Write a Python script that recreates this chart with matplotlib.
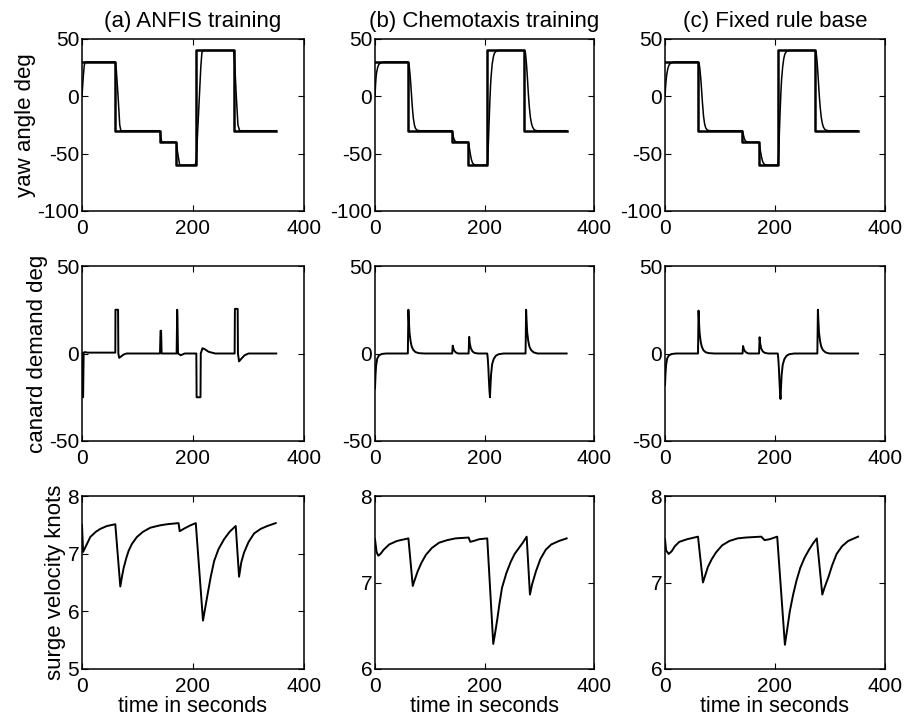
import matplotlib
matplotlib.use("Agg")
import matplotlib.pyplot as plt

plt.rcParams['font.family'] = ['Liberation Sans', 'DejaVu Sans']
plt.rcParams['axes.unicode_minus'] = False

titles = ["(a) ANFIS training", "(b) Chemotaxis training", "(c) Fixed rule base"]
ylabels = ["yaw angle deg", "canard demand deg", "surge velocity knots"]
xlabel = "time in seconds"

# yaw demand (step reference), shared by all columns
demand_t = [0, 60, 140, 170, 205, 273, 350]
demand_v = [30, -30, -40, -60, 40, -30, -30]

# yaw response
yaw_a_t = [0, 2, 4, 6, 60, 62, 65, 68, 70, 140, 142, 144, 170, 172, 176, 204, 206, 210, 214, 216, 218,
           273, 275, 278, 281, 284, 350]
yaw_a_v = [0, 15, 27, 30, 30, 22, 0, -25, -30, -30, -36, -40, -40, -48, -60, -60, -55, -15, 25, 38, 40,
           40, 30, 0, -25, -30, -30]

yaw_b_t = [0, 1, 2, 3, 5, 7, 10, 15, 20, 60, 61, 62, 63, 64, 65, 66, 67, 68, 69, 70, 72, 74, 77, 82,
           140, 141, 142, 144, 146, 149, 152, 170, 171, 172, 174, 176, 178, 181, 185,
           205, 206, 207, 208, 209, 210, 211, 212, 214, 216, 218, 221, 225,
           273, 274, 275, 276, 277, 278, 279, 280, 281, 282, 284, 286, 288, 291, 296, 350]
yaw_b_v = [0, 10, 17, 21, 25.5, 27.8, 29.2, 29.9, 30, 30, 29.5, 28, 24, 19, 13, 6, -1, -8, -14, -19, -25, -28, -29.6, -30,
           -30, -30.5, -33, -37, -39, -39.8, -40, -40, -41, -44, -50, -55, -58, -59.6, -60,
           -60, -55, -42, -28, -14, -2, 9, 17, 28, 34, 37.5, 39.3, 40,
           40, 39.5, 37, 32, 26, 19, 11, 3, -4, -10, -19, -24, -27, -29.3, -30, -30]

yaw_c_t = [0, 1, 2, 3, 5, 7, 10, 15, 22, 60, 61, 62, 63, 64, 65, 66, 67, 68, 69, 70, 72, 74, 77, 83,
           140, 141, 142, 144, 146, 149, 153, 170, 171, 172, 174, 176, 178, 181, 186,
           205, 206, 207, 208, 209, 210, 211, 212, 214, 216, 218, 221, 226,
           273, 274, 275, 276, 277, 278, 279, 280, 281, 282, 284, 286, 288, 291, 297, 350]
yaw_c_v = [0, 8, 14, 18.5, 24, 27, 29, 29.8, 30, 30, 29.6, 28.5, 25.5, 21, 15.5, 9, 2, -5, -11, -17, -24, -27.5, -29.5, -30,
           -30, -30.4, -32.5, -36.5, -38.8, -39.7, -40, -40, -40.8, -43.5, -49, -54, -57.5, -59.5, -60,
           -60, -56, -45, -31, -17, -5, 6, 15, 26, 33, 37, 39.2, 40,
           40, 39.6, 37.5, 33, 27, 20, 12.5, 4.5, -2.5, -8.5, -18, -23.5, -26.8, -29.2, -30, -30]

# canard demand
can_a_t = [0, 0.5, 2, 3, 5, 10, 60, 60.3, 65, 65.5, 67, 70, 75, 80, 140.5, 141.5, 142.5, 143.5,
           170.5, 171.5, 172, 173, 178, 185, 206, 206.5, 213.5, 214, 217, 221, 228, 240,
           275, 275.5, 280.5, 281, 283, 287, 293, 300, 350]
can_a_v = [0, -25, -25, 0.5, 0.8, 0.5, 0.5, 25, 25, 0, -2.5, -1.8, -0.6, 0, 0, 13, 13, 0,
           0, 25, 20, 0, -1, 0, 0, -25, -25, 0, 3, 2.5, 1, 0,
           0, 25.5, 25.5, 0, -4.5, -3, -1, 0, 0]

can_b_t = [0, 1, 2, 4, 7, 12, 20, 60, 61, 62, 63, 65, 67, 70, 74, 80, 90,
           141, 142, 143, 145, 148, 152, 171, 172, 173, 175, 178, 182, 188,
           205, 206, 207, 208, 209, 210, 211, 212, 214, 217, 221, 226, 235,
           275, 276, 277, 278, 280, 282, 285, 290, 297, 350]
can_b_v = [-20, -12, -7, -3, -1.2, -0.3, 0, 0, 25, 18, 12, 7, 4, 2, 0.8, 0.2, 0,
           0, 4.5, 3, 1.5, 0.5, 0, 0, 9.5, 6, 3, 1.2, 0.3, 0,
           0, -3, -8, -15, -21, -25, -18, -12, -6, -3, -1.2, -0.4, 0,
           0, 25, 18, 12, 7, 4, 2, 0.6, 0, 0]

can_c_t = [0, 1, 2, 4, 7, 12, 20, 60, 61, 62, 63, 65, 67, 70, 74, 80, 90,
           141, 142, 143, 145, 148, 152, 171, 172, 173, 175, 178, 182, 188,
           205, 206, 207, 208, 209, 210, 211, 212, 214, 217, 221, 226, 235,
           277, 278, 279, 280, 282, 284, 287, 292, 299, 351]
can_c_v = [-18, -11, -6.5, -2.8, -1.1, -0.3, 0, 0, 24.5, 17, 11.5, 6.5, 3.8, 1.8, 0.7, 0.2, 0,
           0, 4.3, 2.8, 1.4, 0.5, 0, 0, 9.3, 5.8, 2.8, 1.1, 0.3, 0,
           0, -3, -8, -15, -21.5, -26, -19, -12.5, -6.5, -3.2, -1.3, -0.4, 0,
           0, 25, 18, 12, 7, 4, 2, 0.6, 0, 0]

# surge velocity
surge_a_t = [0, 2, 8, 15, 25, 33, 45, 60, 69, 72, 75, 80, 84, 90, 99, 110, 123, 140, 153, 174, 176,
             185, 195, 205, 218, 222, 226, 232, 238, 246, 256, 266, 277, 283, 287, 292, 300, 310,
             322, 334, 349]
surge_a_v = [7.5, 7.03, 7.15, 7.29, 7.38, 7.43, 7.48, 7.51, 6.43, 6.6, 6.75, 6.93, 7.05, 7.17, 7.29,
             7.38, 7.45, 7.49, 7.51, 7.53, 7.39, 7.44, 7.49, 7.53, 5.84, 6.06, 6.28, 6.6, 6.87, 7.08,
             7.25, 7.38, 7.48, 6.6, 6.85, 7.02, 7.2, 7.35, 7.43, 7.48, 7.53]

surge_b_t = [0, 3, 6, 10, 16, 26, 40, 61, 69, 72, 78, 85, 93, 104, 117, 132, 147, 171, 174, 180,
             190, 205, 216, 219, 223, 227, 232, 240, 248, 255, 263, 270, 277, 283, 287, 294, 302,
             312, 322, 336, 350]
surge_b_v = [7.5, 7.35, 7.31, 7.33, 7.38, 7.44, 7.48, 7.51, 6.96, 7.02, 7.13, 7.23, 7.32, 7.4, 7.46,
             7.49, 7.51, 7.52, 7.47, 7.48, 7.5, 7.51, 6.29, 6.4, 6.56, 6.74, 6.94, 7.11, 7.24, 7.33,
             7.4, 7.46, 7.53, 6.86, 6.98, 7.13, 7.27, 7.38, 7.44, 7.48, 7.51]

surge_c_t = [0, 2, 6.7, 12, 18, 26, 40, 60, 69, 72, 78, 85, 93, 104, 117, 132, 147, 175, 181, 190,
             204, 218, 222, 227, 233, 239, 246, 254, 262, 269, 276, 286, 290, 297, 304, 312, 322,
             333, 351]
surge_c_v = [7.5, 7.37, 7.33, 7.36, 7.42, 7.47, 7.5, 7.53, 7.0, 7.06, 7.18, 7.27, 7.35, 7.43, 7.48,
             7.51, 7.52, 7.53, 7.49, 7.5, 7.53, 6.28, 6.45, 6.67, 6.86, 7.02, 7.17, 7.29, 7.38, 7.45,
             7.51, 6.86, 6.94, 7.06, 7.2, 7.33, 7.42, 7.48, 7.53]

yaw_resp = [(yaw_a_t, yaw_a_v), (yaw_b_t, yaw_b_v), (yaw_c_t, yaw_c_v)]
canard = [(can_a_t, can_a_v), (can_b_t, can_b_v), (can_c_t, can_c_v)]
surge = [(surge_a_t, surge_a_v), (surge_b_t, surge_b_v), (surge_c_t, surge_c_v)]

xticks = [0, 200, 400]
yaw_ticks = [-100, -50, 0, 50]
can_ticks = [-50, 0, 50]
surge_ticks_a = [5, 6, 7, 8]
surge_ticks_bc = [6, 7, 8]

W, H = 908, 725
fig = plt.figure(figsize=(W / 100, H / 100), dpi=100)

cols = [(82, 304), (375, 594), (665, 885)]
rows = [(39, 211), (266, 441), (496, 669)]


def make_ax(ci, ri):
    l, r = cols[ci]
    t, b = rows[ri]
    ax = fig.add_axes([l / W, 1 - b / H, (r - l) / W, (b - t) / H])
    ax.tick_params(direction='in', length=4, width=0.8, top=True, right=True,
                   labelsize=15, colors='black')
    ax.tick_params(axis='y', pad=2)
    ax.tick_params(axis='x', pad=5.5)
    for s in ax.spines.values():
        s.set_linewidth(1.1)
        s.set_color('black')
    ax.set_xlim(0, 400)
    ax.set_xticks(xticks)
    return ax


for ci in range(3):
    # row 1: yaw angle
    ax = make_ax(ci, 0)
    ax.plot(demand_t, demand_v, drawstyle='steps-post', color='black', lw=1.8)
    ax.plot(yaw_resp[ci][0], yaw_resp[ci][1], color='black', lw=1.1)
    ax.set_ylim(-100, 50)
    ax.set_yticks(yaw_ticks)
    ax.set_title(titles[ci], fontsize=16, pad=9)
    if ci == 0:
        ax.set_ylabel(ylabels[0], fontsize=16, labelpad=1)

    # row 2: canard demand
    ax = make_ax(ci, 1)
    ax.plot(canard[ci][0], canard[ci][1], color='black', lw=1.4)
    ax.set_ylim(-50, 50)
    ax.set_yticks(can_ticks)
    if ci == 0:
        ax.set_ylabel(ylabels[1], fontsize=16, labelpad=1)

    # row 3: surge velocity
    ax = make_ax(ci, 2)
    ax.plot(surge[ci][0], surge[ci][1], color='black', lw=1.4)
    if ci == 0:
        ax.set_ylim(5, 8)
        ax.set_yticks(surge_ticks_a)
        ax.set_ylabel(ylabels[2], fontsize=16, labelpad=1)
    else:
        ax.set_ylim(6, 8)
        ax.set_yticks(surge_ticks_bc)
    ax.set_xlabel(xlabel, fontsize=15.5, labelpad=0)

fig.savefig("out.png", dpi=100)
